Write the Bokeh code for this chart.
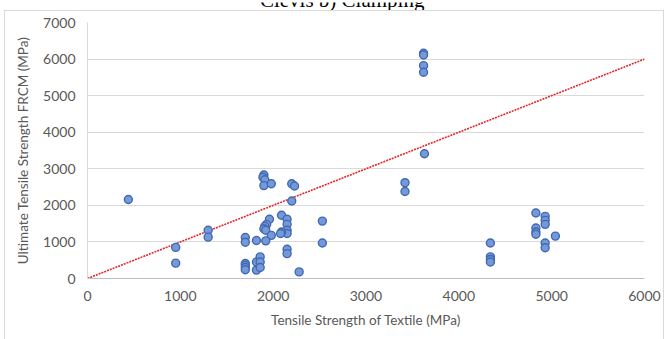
from bokeh.plotting import figure
from bokeh.layouts import column
from bokeh.models import Range1d, Label, ColumnDataSource, FixedTicker
from bokeh.embed import file_html
from bokeh.resources import INLINE

# Tensile strength of the textile vs. ultimate tensile strength of the FRCM (MPa)
textile_strength = [
    440,
    950, 950,
    1300, 1300,
    1700, 1700, 1700, 1700, 1700, 1700,
    1820, 1820, 1820,
    1860, 1860, 1860,
    1900, 1890, 1910, 1900, 1980,
    2200, 2230, 2200,
    2090, 2150, 2150, 2150, 2150, 2090, 2080,
    1960, 1930, 1910, 1900, 1920, 1980, 1920,
    2150, 2150,
    2280,
    2530, 2530,
    3420, 3420,
    3630,
    3620, 3620, 3620, 3620,
    4340, 4340, 4340, 4340,
    4830, 4830, 4830, 4830,
    4930, 4930, 4930, 4930, 4930,
    5040,
]
frcm_strength = [
    2160,
    850, 420,
    1320, 1130,
    1120, 990, 410, 360, 300, 240,
    1040, 450, 230,
    590, 450, 300,
    2830, 2770, 2700, 2540, 2590,
    2590, 2530, 2120,
    1730, 1620, 1480, 1320, 1230, 1270, 1230,
    1620, 1480, 1430, 1360, 1320, 1180, 1030,
    800, 680,
    180,
    1570, 970,
    2620, 2380,
    3410,
    6160, 6110, 5820, 5640,
    970, 590, 520, 450,
    1790, 1380, 1270, 1210,
    1700, 1590, 1480, 970, 840,
    1160,
]

# 1:1 reference line
equality_x = [0, 6000]
equality_y = [0, 6000]

x_ticks = [0, 1000, 2000, 3000, 4000, 5000, 6000]
y_ticks = [0, 1000, 2000, 3000, 4000, 5000, 6000, 7000]

source = ColumnDataSource(data=dict(x=textile_strength, y=frcm_strength))

# --- strip holding the caption of the panel above (only its lower part shows)
caption = figure(
    width=667, height=10,
    output_backend="svg", toolbar_location=None,
    x_axis_type=None, y_axis_type=None,
    x_range=Range1d(0, 667), y_range=Range1d(0, 10),
    min_border=0,
    min_border_left=0, min_border_right=0,
    min_border_top=0, min_border_bottom=0,
)
caption.grid.visible = False
caption.outline_line_color = None
caption.background_fill_color = "white"
caption.border_fill_color = "white"
caption.add_layout(Label(x=305, y=12.1, text="Clevis b) Clamping",
                         text_font="Liberation Serif", text_font_size="21px",
                         text_color="black", text_align="center",
                         text_baseline="alphabetic"))

# --- light grey chart border drawn behind a transparent canvas
edge = "linear-gradient(#d9d9d9, #d9d9d9)"
chart_border = (
    f"{edge} 4px 0px / 1px 340px no-repeat, "
    f"{edge} 4px 0px / 660px 1px no-repeat, "
    f"{edge} 663px 0px / 1px 340px no-repeat, white"
)

p = figure(
    width=667, height=329,
    output_backend="svg", toolbar_location=None,
    x_range=Range1d(0, 6000), y_range=Range1d(0, 7000),
    min_border_left=87, min_border_right=23,
    min_border_top=12, min_border_bottom=61,
    styles={"background": chart_border},
)
p.outline_line_color = None
p.background_fill_color = None
p.border_fill_color = None

label_color = "#595959"
font = "Lato"

p.xgrid.visible = False
p.ygrid.grid_line_color = "#d9d9d9"
p.ygrid.grid_line_width = 1

for ax in (p.xaxis, p.yaxis):
    ax.major_tick_line_color = None
    ax.minor_tick_line_color = None
    ax.major_tick_in = 0
    ax.major_tick_out = 0
    ax.major_label_text_font = font
    ax.major_label_text_font_size = "14px"
    ax.major_label_text_color = label_color
    ax.axis_label_text_font = font
    ax.axis_label_text_font_size = "13.5px"
    ax.axis_label_text_font_style = "normal"
    ax.axis_label_text_color = label_color

p.xaxis.axis_line_color = "#bfbfbf"
p.yaxis.axis_line_color = "#d9d9d9"
p.xaxis.ticker = FixedTicker(ticks=x_ticks)
p.yaxis.ticker = FixedTicker(ticks=y_ticks)
p.xaxis.axis_label = "Tensile Strength of Textile (MPa)"
p.yaxis.axis_label = "Ultimate Tensile Strength FRCM (MPa)"
p.xaxis.major_label_standoff = 12
p.xaxis.axis_label_standoff = 8
p.yaxis.major_label_standoff = 12
p.yaxis.axis_label_standoff = 9

p.line(equality_x, equality_y, line_color="#e3262a", line_width=1.6, line_dash="2 1")

p.scatter("x", "y", source=source, size=8, marker="circle",
          fill_color="#7599d8", line_color="#4169b3", line_width=1.4)

page = column(caption, p, spacing=0)

open("out.html", "w").write(file_html(page, INLINE))
